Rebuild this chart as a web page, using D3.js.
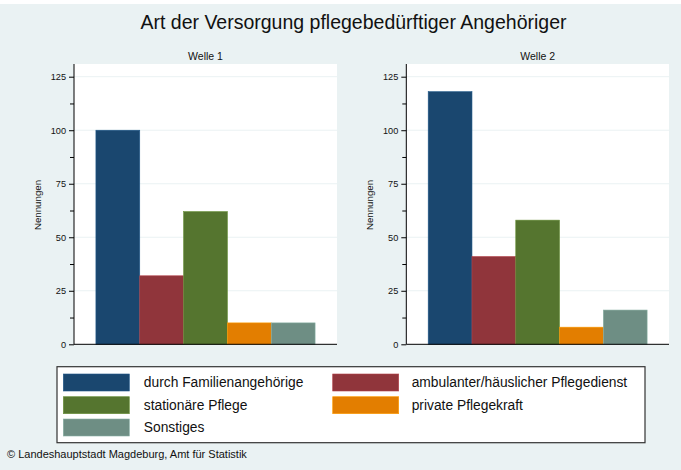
<!DOCTYPE html>
<html><head><meta charset="utf-8">
<script src="https://cdn.jsdelivr.net/npm/d3@7"></script>
<style>html,body{margin:0;padding:0;background:#fff;}svg{display:block;font-family:Arial,"Liberation Sans",sans-serif;}</style>
</head><body>
<script>
const categories = ["durch Familienangehörige","ambulanter/häuslicher Pflegedienst","stationäre Pflege","private Pflegekraft","Sonstiges"];
const panels = ["Welle 1","Welle 2"];
const welle1 = [100, 32, 62, 10, 10];
const welle2 = [118, 41, 58, 8, 16];
const yTicks = [0, 25, 50, 75, 100, 125];
const yMinorTicks = [12.5, 37.5, 62.5, 87.5, 112.5];
const colors = ["#1a476f","#90353b","#55752f","#e37e00","#6e8e84"];
const title = "Art der Versorgung pflegebedürftiger Angehöriger";
const yLabel = "Nennungen";
const source = "©  Landeshauptstadt Magdeburg, Amt für Statistik";

const W = 681, H = 470;
const svg = d3.select("body").append("svg").attr("width", W).attr("height", H);
svg.append("rect").attr("x",0).attr("y",4).attr("width",W).attr("height",H-4).attr("fill","#eaf2f3");

svg.append("text").attr("x",353.5).attr("y",29).attr("text-anchor","middle")
  .attr("font-size",19.5).attr("fill","#111").text(title);

const y = d3.scaleLinear().domain([0,125]).range([344.3, 76.7]);
const panelData = [welle1, welle2];
const plotX = [[74, 337],[406.3, 669]];
const plotTop = 64;

panelData.forEach((vals, i) => {
  const [x0, x1] = plotX[i];
  const g = svg.append("g");
  g.append("rect").attr("x",x0).attr("y",plotTop).attr("width",x1-x0).attr("height",y(0)-plotTop).attr("fill","#fff");
  g.selectAll("line.grid").data(yTicks.filter(t=>t>0)).join("line")
    .attr("x1",x0).attr("x2",x1).attr("y1",d=>y(d)).attr("y2",d=>y(d))
    .attr("stroke","#eaf2f3").attr("stroke-width",1);
  const x = d3.scaleBand().domain(categories).range([x0, x1]).paddingInner(0).paddingOuter(0.5);
  g.selectAll("rect.bar").data(vals).join("rect")
    .attr("x",(d,j)=>x(categories[j])).attr("width",x.bandwidth())
    .attr("y",d=>y(d)).attr("height",d=>y(0)-y(d))
    .attr("fill",(d,j)=>colors[j])
    .attr("stroke",(d,j)=>d3.color(colors[j]).brighter(0.6)).attr("stroke-width",0.6);
  const ax = g.append("g").attr("transform",`translate(${x0},0)`)
    .call(d3.axisLeft(y).tickValues(yTicks).tickSize(5).tickPadding(3));
  ax.select(".domain").attr("d",`M0,${plotTop}V${y(0)}`).attr("stroke","#000");
  ax.selectAll("text").attr("font-size",9.2).attr("fill","#111").attr("font-family",'Arial,"Liberation Sans",sans-serif');
  g.append("g").attr("transform",`translate(${x0},0)`)
    .call(d3.axisLeft(y).tickValues(yMinorTicks).tickSize(4).tickFormat(""))
    .select(".domain").remove();
  g.append("line").attr("x1",x0).attr("x2",x1).attr("y1",y(0)).attr("y2",y(0)).attr("stroke","#000").attr("stroke-width",1);
  g.append("text").attr("x",(x0+x1)/2).attr("y",60).attr("text-anchor","middle")
    .attr("font-size",10.5).attr("fill","#111").text(panels[i]);
  g.append("text").attr("transform",`translate(${x0-33},205) rotate(-90)`)
    .attr("text-anchor","middle").attr("font-size",9.7).attr("fill","#111").text(yLabel);
});

const lg = svg.append("g");
lg.append("rect").attr("x",57).attr("y",366.7).attr("width",588).attr("height",76)
  .attr("fill","#fff").attr("stroke","#333").attr("stroke-width",1.2);
const colX = [63.3, 332.7], textX = [143.8, 411.7], rowY = [374, 396.7, 419];
categories.forEach((c, j) => {
  const col = j % 2, row = Math.floor(j / 2);
  lg.append("rect").attr("x",colX[col]).attr("y",rowY[row]).attr("width",66).attr("height",17)
    .attr("fill",colors[j]).attr("stroke",d3.color(colors[j]).brighter(0.6)).attr("stroke-width",0.6);
  lg.append("text").attr("x",textX[col]).attr("y",rowY[row]+13).attr("font-size",13.8)
    .attr("fill","#111").text(c);
});

svg.append("text").attr("x",7).attr("y",458).attr("font-size",11).attr("fill","#111").text(source);
</script>
</body></html>
